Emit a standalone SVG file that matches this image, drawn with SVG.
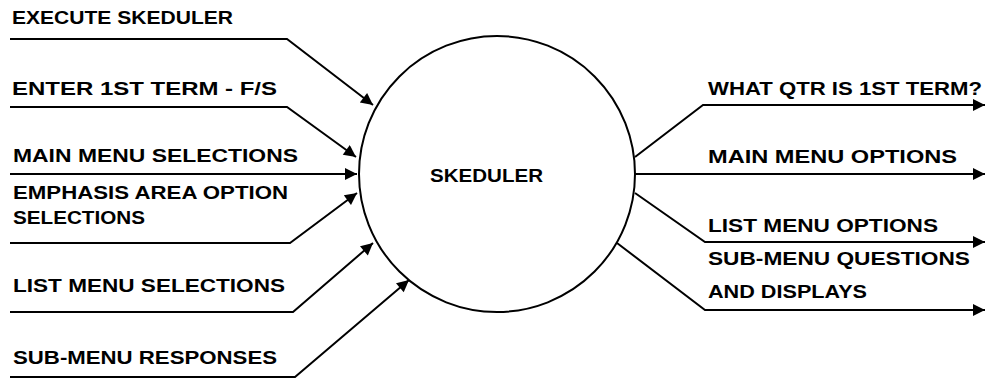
<svg xmlns="http://www.w3.org/2000/svg" width="995" height="381" viewBox="0 0 995 381">
<style>
.t{font-family:"Liberation Sans",Arial,sans-serif;font-weight:bold;font-size:19px;fill:#000}
.c{fill:none;stroke:#000;stroke-width:2;stroke-linejoin:round}
.f{fill:none;stroke:#000;stroke-width:2;marker-end:url(#ah)}
</style>
<defs>
<marker id="ah" viewBox="0 0 10 10" refX="10" refY="5" markerWidth="16" markerHeight="12" markerUnits="userSpaceOnUse" orient="auto">
<path d="M0,0 L10,5 L0,10 z" fill="#000"/>
</marker>
</defs>
<rect width="995" height="381" fill="#fff"/>
<g id="skeduler">
<circle class="c" cx="497" cy="174" r="138"/>
<text class="t" x="430" y="182" textLength="113" lengthAdjust="spacingAndGlyphs">SKEDULER</text>
</g>
<g id="labels-in">
<text class="t" x="12" y="24" textLength="221" lengthAdjust="spacingAndGlyphs">EXECUTE SKEDULER</text>
<text class="t" x="12" y="95" textLength="265" lengthAdjust="spacingAndGlyphs">ENTER 1ST TERM -  F/S</text>
<text class="t" x="13" y="162" textLength="285" lengthAdjust="spacingAndGlyphs">MAIN MENU SELECTIONS</text>
<text class="t" x="13" y="199" textLength="275" lengthAdjust="spacingAndGlyphs">EMPHASIS AREA OPTION</text>
<text class="t" x="13" y="224" textLength="132" lengthAdjust="spacingAndGlyphs">SELECTIONS</text>
<text class="t" x="13" y="292" textLength="272" lengthAdjust="spacingAndGlyphs">LIST MENU SELECTIONS</text>
<text class="t" x="13" y="364" textLength="264" lengthAdjust="spacingAndGlyphs">SUB-MENU RESPONSES</text>
</g>
<g id="labels-out">
<text class="t" x="708" y="95" textLength="274" lengthAdjust="spacingAndGlyphs">WHAT QTR IS 1ST TERM?</text>
<text class="t" x="708" y="163" textLength="249" lengthAdjust="spacingAndGlyphs">MAIN MENU OPTIONS</text>
<text class="t" x="708" y="232" textLength="230" lengthAdjust="spacingAndGlyphs">LIST MENU OPTIONS</text>
<text class="t" x="708" y="265" textLength="262" lengthAdjust="spacingAndGlyphs">SUB-MENU QUESTIONS</text>
<text class="t" x="708" y="298" textLength="159" lengthAdjust="spacingAndGlyphs">AND DISPLAYS</text>
</g>
<g id="connectors">
<polyline class="f" points="10,39 287,39 373,105"/>
<polyline class="f" points="10,107 287,107 356,157"/>
<polyline class="f" points="10,174 357,174"/>
<polyline class="f" points="10,243 290,243 357,193"/>
<polyline class="f" points="10,312 293,312 373,243"/>
<polyline class="f" points="10,377 295,377 409,280"/>
<polyline class="f" points="635,157 703,105 985,105"/>
<polyline class="f" points="635,174 985,174"/>
<polyline class="f" points="635,193 705,242 985,242"/>
<polyline class="f" points="617,243 705,310 985,310"/>
</g>
</svg>
